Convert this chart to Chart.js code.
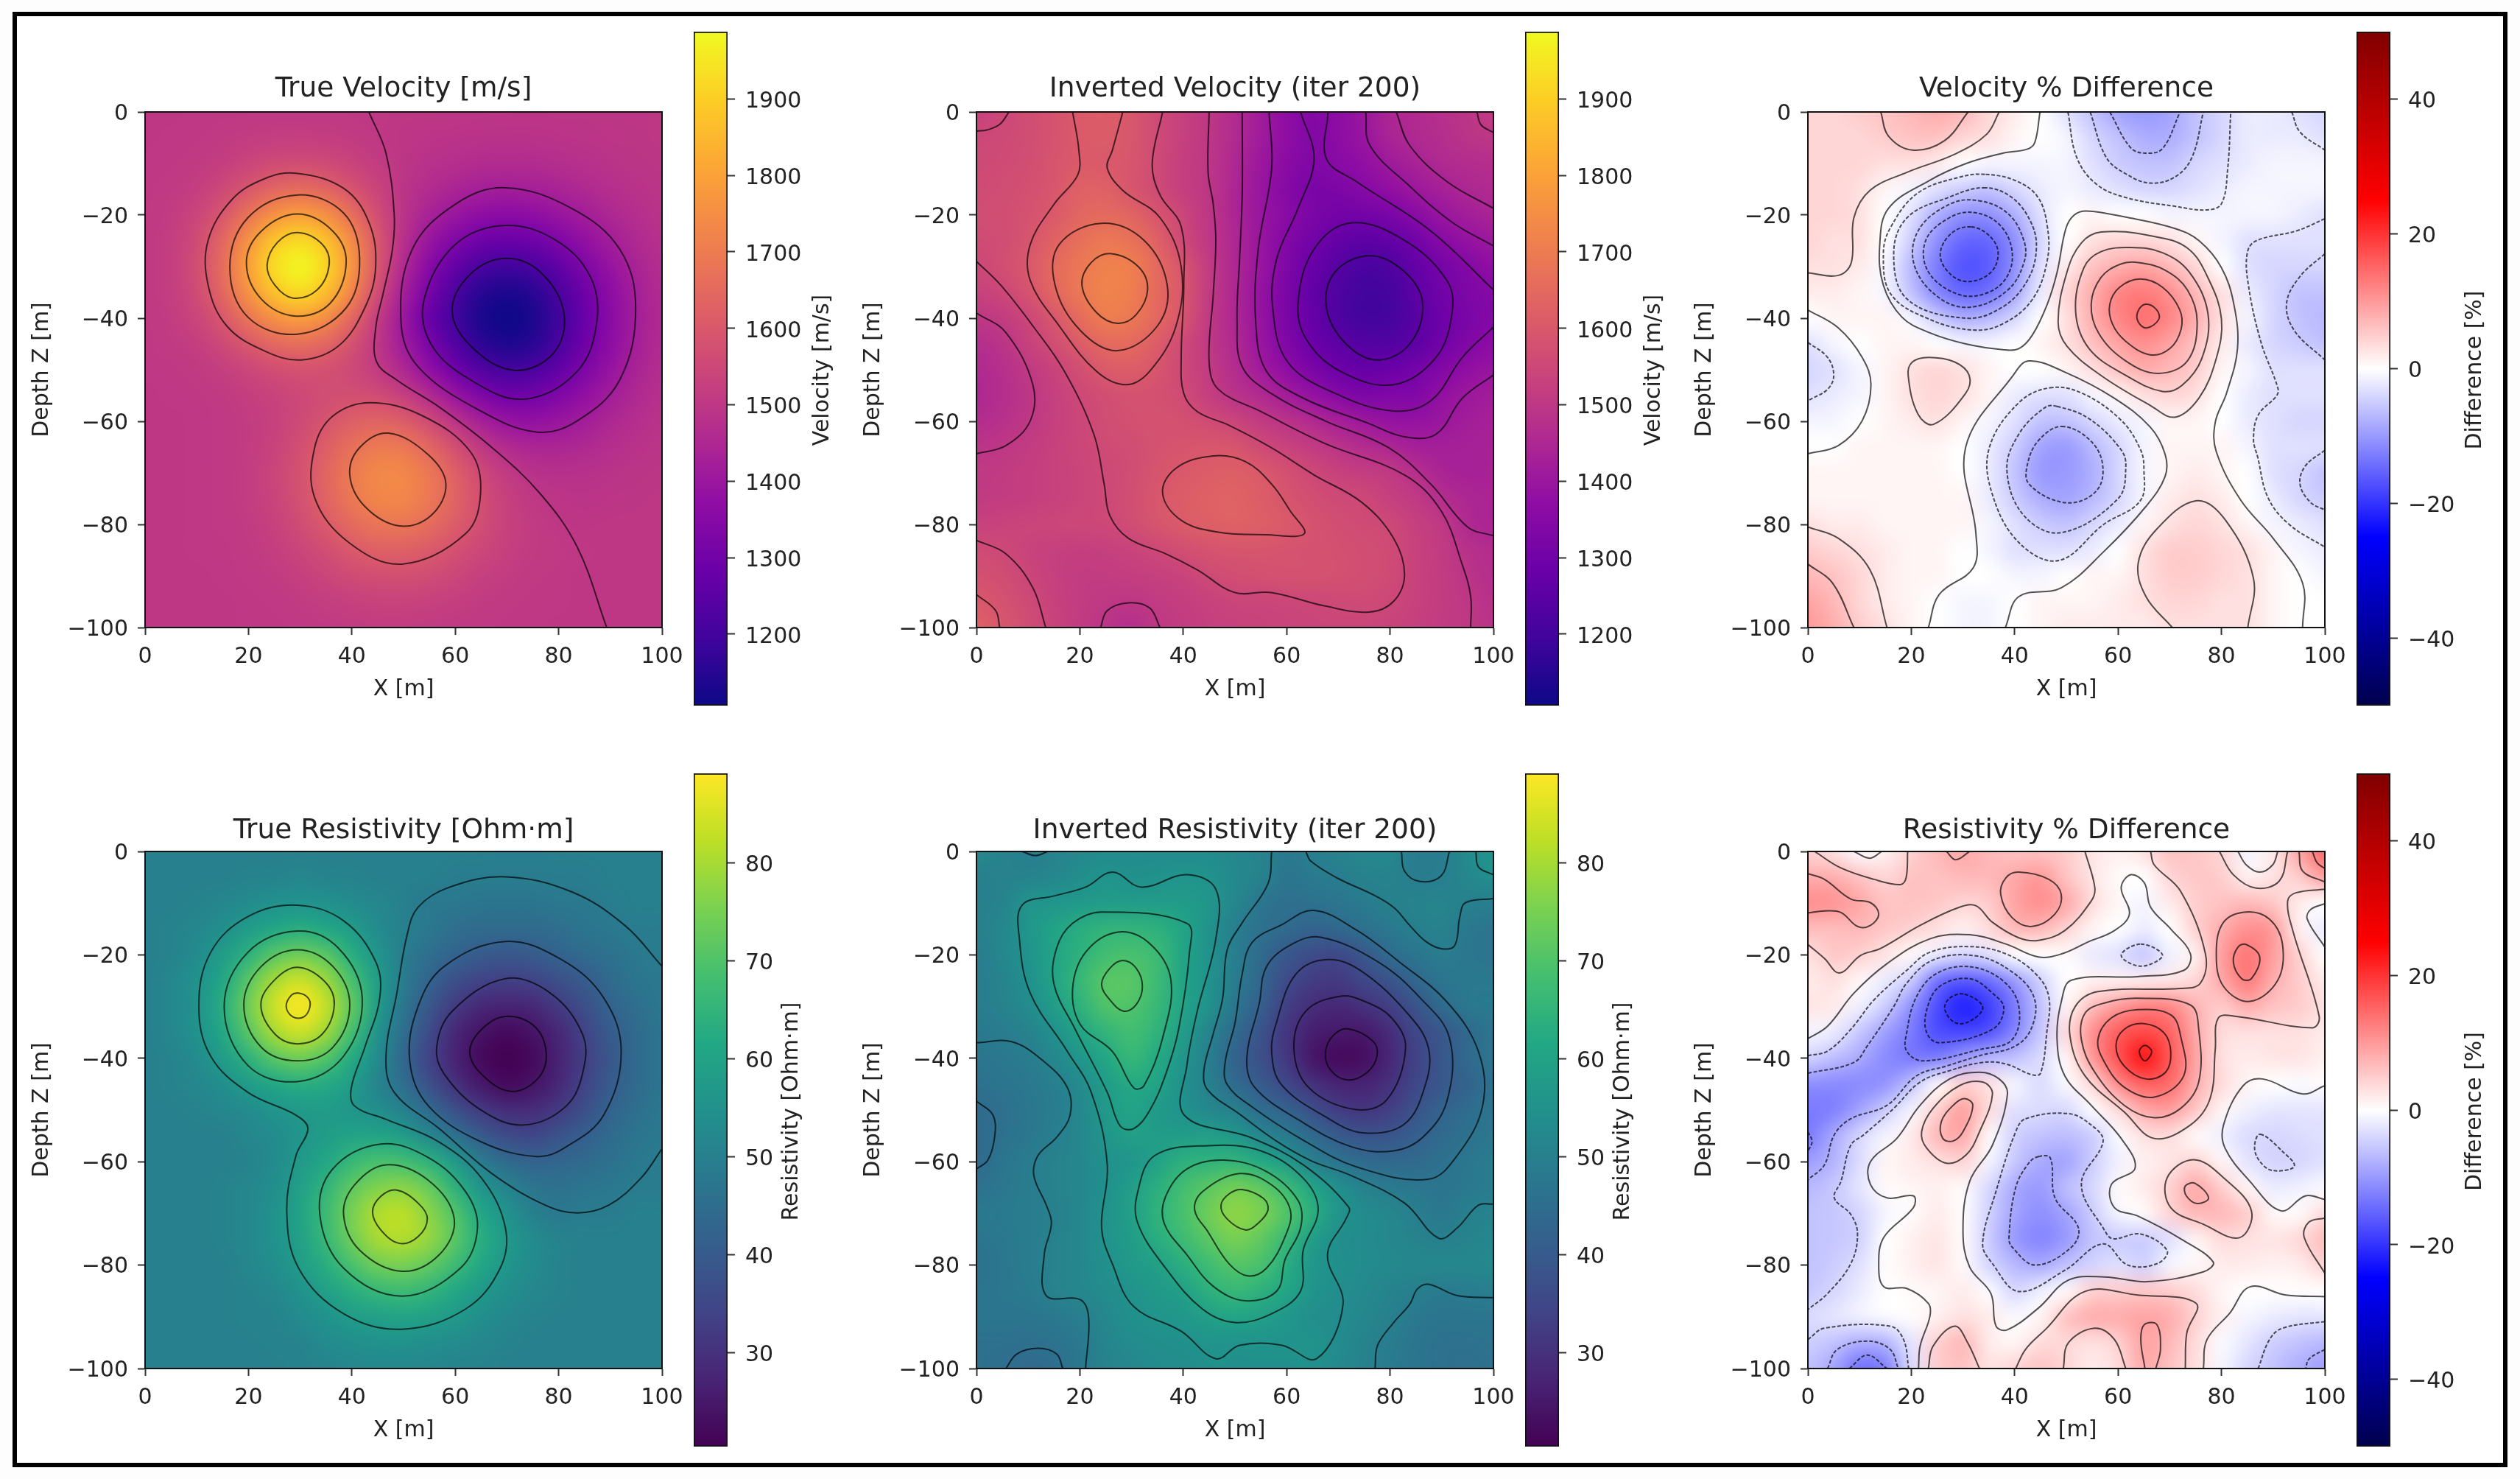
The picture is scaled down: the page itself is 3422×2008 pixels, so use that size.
<!DOCTYPE html>
<html>
<head>
<meta charset="utf-8">
<title>Inversion results</title>
<script src="https://cdn.jsdelivr.net/npm/chart.js@4"></script>
<style>
  html, body { margin: 0; background: #fdfdfd; }
  #frame { position: absolute; left: 17px; top: 16px; width: 3376px; height: 1964px; border: 6px solid #000; background: #fff; }
  canvas { position: absolute; filter: blur(0.7px); }
</style>
</head>
<body>
<div id="frame"></div>
<script>
// cell centres of every grid, 5 m apart
const xCells = [0, 5, 10, 15, 20, 25, 30, 35, 40, 45, 50, 55, 60, 65, 70, 75, 80, 85, 90, 95, 100];
const zCells = [0, -5, -10, -15, -20, -25, -30, -35, -40, -45, -50, -55, -60, -65, -70, -75, -80, -85, -90, -95, -100];

// tick labels
const xTicks = [0, 20, 40, 60, 80, 100];
const depthTicks = [0, -20, -40, -60, -80, -100];
const velocityTicks = [1200, 1300, 1400, 1500, 1600, 1700, 1800, 1900];
const resistivityTicks = [30, 40, 50, 60, 70, 80];
const diffTicks = [-40, -20, 0, 20, 40];

// colour ranges
const velocityRange = [1106.5, 1988];
const resistivityRange = [20.4, 89.1];
const diffRange = [-50, 50];

// one row per depth
const trueVelocity = [
  [1500,1500,1501,1502,1503,1504,1505,1504,1503,1502,1500,1499,1497,1496,1494,1493,1494,1495,1496,1497,1498],
  [1500,1501,1503,1507,1513,1519,1521,1518,1511,1503,1497,1491,1487,1484,1483,1484,1487,1490,1494,1496,1498],
  [1501,1503,1509,1521,1540,1558,1565,1556,1536,1513,1495,1481,1471,1463,1461,1463,1470,1478,1486,1492,1496],
  [1502,1507,1521,1552,1596,1640,1658,1636,1588,1536,1492,1462,1440,1425,1420,1425,1438,1455,1471,1484,1492],
  [1503,1513,1540,1596,1680,1760,1794,1755,1666,1567,1489,1434,1394,1368,1359,1368,1391,1421,1449,1471,1486],
  [1505,1519,1558,1640,1761,1879,1926,1869,1739,1595,1478,1395,1334,1293,1279,1293,1329,1376,1420,1455,1478],
  [1505,1521,1566,1659,1796,1930,1983,1917,1766,1597,1456,1349,1269,1214,1195,1214,1264,1328,1390,1438,1470],
  [1505,1519,1558,1640,1761,1873,1924,1863,1724,1565,1425,1311,1219,1154,1131,1154,1214,1292,1367,1425,1463],
  [1503,1513,1540,1596,1681,1755,1790,1745,1642,1518,1400,1281,1197,1131,1107,1131,1195,1279,1359,1420,1461],
  [1502,1507,1521,1552,1598,1644,1662,1637,1578,1500,1412,1319,1231,1163,1135,1154,1214,1292,1367,1425,1463],
  [1501,1503,1509,1522,1544,1567,1579,1575,1553,1511,1452,1377,1297,1234,1205,1218,1266,1328,1390,1438,1470],
  [1500,1501,1503,1509,1520,1535,1550,1566,1573,1562,1524,1463,1392,1331,1298,1301,1332,1376,1420,1455,1478],
  [1500,1500,1501,1505,1513,1528,1555,1587,1619,1632,1613,1560,1491,1428,1390,1381,1396,1421,1449,1471,1486],
  [1500,1500,1501,1505,1515,1535,1572,1618,1668,1697,1688,1641,1572,1506,1461,1443,1444,1455,1471,1484,1492],
  [1500,1500,1501,1506,1516,1540,1581,1637,1695,1733,1732,1688,1621,1554,1507,1483,1477,1480,1486,1492,1496],
  [1500,1500,1501,1505,1516,1538,1577,1632,1690,1726,1728,1690,1631,1571,1527,1503,1494,1490,1494,1496,1498],
  [1500,1500,1501,1504,1512,1530,1561,1605,1651,1683,1684,1657,1612,1566,1530,1510,1500,1497,1498,1499,1499],
  [1500,1500,1501,1503,1508,1520,1541,1570,1601,1622,1624,1606,1576,1546,1523,1510,1504,1501,1500,1500,1500],
  [1500,1500,1500,1501,1505,1512,1523,1540,1558,1570,1571,1561,1544,1526,1513,1506,1502,1500,1500,1500,1500],
  [1500,1500,1500,1500,1502,1505,1511,1519,1527,1533,1534,1529,1521,1512,1506,1503,1501,1500,1500,1500,1500],
  [1500,1500,1500,1500,1501,1502,1504,1508,1511,1513,1514,1512,1508,1505,1502,1501,1500,1500,1500,1500,1500]
];
const invertedVelocity = [
  [1530,1548,1565,1585,1605,1615,1595,1555,1525,1500,1460,1415,1365,1340,1365,1400,1445,1460,1475,1492,1510],
  [1548,1555,1565,1585,1605,1612,1595,1555,1525,1498,1460,1412,1372,1338,1365,1395,1440,1455,1470,1488,1498],
  [1555,1560,1570,1590,1605,1600,1592,1555,1520,1497,1450,1400,1360,1335,1355,1375,1410,1435,1455,1465,1470],
  [1560,1565,1575,1592,1625,1625,1590,1555,1520,1495,1445,1395,1345,1320,1325,1350,1375,1405,1430,1450,1460],
  [1565,1570,1580,1605,1640,1652,1635,1590,1545,1495,1445,1395,1355,1325,1305,1305,1320,1355,1395,1420,1440],
  [1560,1565,1590,1630,1665,1690,1675,1625,1550,1500,1450,1395,1340,1300,1270,1255,1265,1300,1350,1385,1405],
  [1548,1570,1598,1650,1690,1715,1710,1650,1590,1510,1450,1395,1330,1280,1240,1215,1225,1270,1310,1340,1375],
  [1530,1545,1585,1640,1690,1720,1705,1650,1595,1510,1450,1385,1320,1265,1225,1200,1205,1255,1300,1330,1348],
  [1498,1515,1545,1595,1655,1705,1690,1645,1590,1505,1450,1390,1320,1275,1225,1200,1205,1245,1290,1320,1345],
  [1470,1490,1530,1565,1610,1650,1650,1610,1552,1505,1455,1395,1335,1285,1255,1235,1235,1255,1300,1335,1365],
  [1455,1475,1505,1535,1570,1605,1615,1590,1550,1510,1465,1415,1370,1320,1290,1275,1285,1310,1340,1375,1395],
  [1450,1470,1495,1525,1550,1570,1580,1575,1560,1520,1485,1460,1420,1385,1350,1325,1335,1335,1380,1405,1420],
  [1465,1480,1500,1525,1545,1565,1575,1580,1575,1560,1540,1512,1490,1460,1430,1405,1385,1385,1400,1420,1430],
  [1490,1500,1515,1530,1545,1558,1565,1580,1590,1597,1590,1555,1535,1515,1490,1465,1450,1425,1425,1430,1435],
  [1505,1510,1520,1530,1540,1552,1565,1590,1603,1615,1620,1605,1575,1550,1530,1518,1508,1475,1440,1430,1435],
  [1510,1515,1520,1530,1540,1552,1570,1595,1615,1625,1628,1615,1590,1570,1555,1550,1525,1508,1470,1450,1440],
  [1530,1535,1540,1545,1548,1550,1565,1590,1607,1620,1625,1620,1605,1585,1570,1560,1552,1525,1505,1455,1440],
  [1560,1552,1535,1525,1520,1525,1535,1550,1570,1585,1590,1590,1585,1580,1575,1570,1560,1530,1510,1480,1465],
  [1575,1565,1545,1525,1515,1515,1520,1525,1535,1555,1570,1575,1580,1580,1575,1570,1558,1530,1515,1490,1470],
  [1600,1580,1555,1530,1515,1502,1495,1510,1520,1530,1540,1540,1545,1548,1555,1558,1548,1530,1515,1500,1480],
  [1625,1595,1565,1535,1510,1490,1470,1498,1515,1525,1530,1535,1538,1540,1540,1540,1535,1525,1512,1502,1485]
];
const velocityDiff = [
  [4,4,5,6,7,8,7,4,2,0,-3,-6,-9,-10,-9,-6,-4,-2,-2,-3,-4],
  [4,4,4,5,6,6,4,3,1,0,-1,-4,-6,-8,-8,-6,-4,-2,-2,-2,-3],
  [4,4,4,3,3,2,0,-1,-1,-1,-1,-3,-5,-6,-6,-4,-3,-2,-1,-1,-1],
  [4,4,3,1,-1,-3,-5,-6,-4,-2,-1,-2,-3,-4,-4,-3,-2,-1,-1,-1,-1],
  [4,4,3,0,-3,-8,-11,-11,-8,-3,0,1,0,0,-1,-1,-1,-1,-1,-2,-3],
  [4,3,3,0,-5,-11,-15,-15,-11,-4,0,3,4,4,3,1,-1,-3,-3,-3,-3],
  [3,3,2,-1,-7,-13,-17,-16,-11,-3,2,6,8,9,7,4,0,-3,-4,-4,-4],
  [2,2,1,-1,-6,-12,-15,-14,-9,-2,4,8,12,13,11,7,3,-2,-4,-6,-6],
  [0,1,1,1,-1,-5,-8,-7,-4,0,3,8,12,14,12,8,3,-1,-4,-6,-7],
  [-3,-1,0,1,1,0,-1,-1,0,1,3,6,9,11,9,6,2,-2,-4,-5,-6],
  [-4,-3,-1,1,3,4,3,1,0,0,1,3,6,8,7,5,1,-1,-3,-3,-3],
  [-3,-2,-1,1,3,4,3,1,-2,-3,-3,-1,1,3,4,3,0,-2,-3,-3,-3],
  [-1,-1,0,1,2,3,1,-1,-3,-6,-6,-4,-2,-1,1,1,0,-2,-3,-4,-4],
  [0,0,1,1,1,1,0,-2,-5,-9,-10,-7,-4,-1,1,1,1,-1,-3,-3,-3],
  [1,1,1,1,1,1,0,-2,-6,-10,-10,-8,-4,-1,1,2,1,0,-3,-4,-6],
  [1,1,1,1,1,1,1,-2,-5,-8,-9,-7,-4,-1,2,3,2,0,-2,-4,-5],
  [3,2,2,1,1,1,1,-1,-3,-5,-6,-4,-2,1,3,4,3,1,-1,-2,-3],
  [5,4,3,2,1,1,0,-1,-3,-3,-3,-2,0,3,5,5,4,3,1,-1,-2],
  [7,6,4,2,1,1,0,0,-1,-1,0,1,1,3,5,5,4,3,1,0,-1],
  [9,7,4,2,1,0,-1,-1,0,1,1,1,2,3,4,4,3,3,1,0,0],
  [10,8,5,3,1,0,-1,-1,0,1,2,2,2,2,3,3,3,3,1,0,0]
];
const trueResistivity = [
  [50,50,50,50,50,50,50,50,50,50,50,50,50,50,49.5,49.5,50,50,50,50,50],
  [50,50,50,50,51,51,52,51,51,50,50,50,49,49,49,49,49,49,50,50,50],
  [50,50,51,52,53,55,55,55,53,52,50,48,48,47,47,47,48,48,49,50,50],
  [50,51,52,54,58,61,63,61,58,53,50,48,45,44,44,44,45,47,48,49,49],
  [50,51,53,58,64,71,74,71,63,56,49,45,42,40,39,40,42,44,46,48,49],
  [50,52,55,61,71,80,84,79,69,58,49,42,37,34,33,34,37,40,44,47,48],
  [50,52,55,63,74,84,89,83,72,58,47,39,32,28,27,28,32,37,42,45,48],
  [50,52,55,61,71,80,84,79,68,55,45,36,28,24,22,24,28,34,40,44,47],
  [50,51,53,58,64,71,74,70,62,53,43,34,27,22,20.5,22,27,33,39,44,47],
  [50,51,52,54,58,61,63,62,58,51,45,37,30,25,22,24,28,34,40,44,47],
  [50,50,51,52,53,56,57,58,56,54,50,44,37,32,29,29,32,37,42,45,48],
  [50,50,50,50,52,53,56,58,60,60,58,52,46,40,36,35,38,41,44,47,48],
  [50,50,50,50,51,53,57,61,66,69,68,64,57,49,44,42,43,44,46,48,49],
  [50,50,50,51,52,54,59,65,72,76,77,73,64,56,51,47,46,47,48,49,49],
  [50,50,50,51,52,55,60,67,75,81,82,77,70,61,55,50,48,49,49,50,50],
  [50,50,50,51,52,55,59,66,74,80,81,78,71,63,57,53,51,50,50,50,50],
  [50,50,50,50,52,54,58,63,69,74,75,72,67,61,56,53,51,50,50,50,50],
  [50,50,50,50,51,52,55,59,63,66,67,65,61,57,54,52,51,50,50,50,50],
  [50,50,50,50,51,51,53,55,58,59,60,59,57,54,52,51,50,50,50,50,50],
  [50,50,50,50,50,51,51,53,54,55,55,54,53,52,51,50,50,50,50,50,50],
  [50,50,50,50,50,50,51,51,52,52,52,52,51,51,50,50,50,50,50,50,50]
];
const invertedResistivity = [
  [52,51,49.5,50.5,52,53,53,53,53,53,52,50.5,48,49.5,51,52,52,49,49,53,56],
  [50,50.5,51,52,54,55.5,54.5,55,55.5,55,52.5,50.5,47,48.5,49,50.5,51,49,49.5,52,54],
  [50,51,55.5,56,57,58,58,58,58,56,52,47,45.5,46,47,48.5,50,51,51.5,50,49.5],
  [50,52,56,60,63,65,65,64,60.5,55,49.5,46,44,42,43.5,46,48,49.8,50.5,48,47],
  [49,52,55,60,64,68,69,67,60.5,55,49.5,44,39,36,35,39,44.5,47,49,47.5,47],
  [49,51,54.5,60,66,71,71,67,60,55,49,43,36,32.5,32,35,38,43,47,48,48],
  [49,50.5,53,58,64,70,70,66,60,55,47,41,33,29,28,30,33,38,44,48,48.5],
  [48,49,50.5,54.5,60,65,68,64.5,58,51,44,38,31,26,25,25,29,35,39,43.5,47],
  [47,48,49,52,56,61,66,62,56,49.5,42,37,31.5,24.5,22,23,28,34,39,44,47],
  [46,47,48,49.5,53,58,62,60,54.5,50,44,40,35,30,27,27,30,35,39,42,46],
  [44,45.5,47.5,49,52,57,60,57,55,52,50,44.5,42,37,32.5,31,33,38,42,44.5,47],
  [44,46,47.5,49.5,52,56,59,58,58,58.5,56.5,52,48.5,44,40,38,38.5,41,44,46,48],
  [44,47,49,50.5,52,54.5,56,59.5,64,64.5,65,62,57,50,46.5,44,43.5,44,46,47.5,49],
  [46,47.5,49,50.5,52,54.5,58.5,63.5,68,71.5,74.5,72,67,60.5,54.5,50.5,48.5,47.5,47,48,49],
  [48,48.5,49,50,52,55,59,64.5,69,74,77.5,75.5,70.5,63.5,55.5,53,52,49.5,47.5,50,51],
  [47,48,49,50.5,52,55,58,63,67,71.5,75,72,66,58,54,53,52,51,50,51,52],
  [46,47.5,49,50.5,52,54.5,57,59,63.5,67.5,70.5,69,63,56,54.5,53,52.5,52,52,52,52.5],
  [47,47.5,48.5,50.5,52,53.5,55,57,59,64,66,64,60.5,55.5,54,52.5,51,49.8,48.5,49,49.5],
  [47,47,47,48,49.5,52,54.5,55.5,56.5,59,60.5,59,56.5,54,53,52,50,48,47,47,47],
  [46,46,45.5,46.5,48,51.5,53,54,54.5,55.5,55,55.2,55,55.5,53,51,49,47,46,46,46.5],
  [46,45.2,44,44.5,48,50.5,52,53,53.5,54.5,54.5,54.5,54.5,54.5,52.5,50.5,48.5,47,46,45.5,46]
];
const resistivityDiff = [
  [4.5,3,-.5,1.5,4.5,7,8.5,7,6,6,5,2.5,1.5,3,6,5.5,4,-1,2,9,15],
  [8,8,6,4,6,6,7,7,8.5,10,6,2.5,.5,0,4,5.5,5,1.5,3,5,9.5],
  [11,10.5,8.5,6,6,5.5,4.2,5,9,11,8.5,3.5,.8,-1,2,4.8,6,7,5.5,2,0],
  [6.5,6.5,7,5.5,4.5,3,1.5,3.5,7,7,4.2,1,0,-2,0,4.5,8,11,10,1.5,-2],
  [3,5.5,4.5,2.5,.5,-2,-4,-3,0,0,.5,-2,-3,-5.5,-1.5,1.5,9.5,13.5,9.5,4.5,0],
  [2,3,.8,-2,-5,-14,-16.5,-14.5,-10,-4.5,0,1.5,1.5,2,2.5,4,8.5,13,8,5,2],
  [2.5,2,-1.5,-5,-11,-17.5,-22,-19,-13,-6,1,6.5,10,12.5,12,7.5,5,8,6,5,3],
  [-1,-2,-5.5,-9.5,-13,-17.5,-18,-17,-12,-5.5,3.5,11,16,18,15.5,8.5,3.5,3,3,3,2],
  [-4.5,-6.5,-8.5,-11.5,-13,-12.6,-9.5,-7,-6,-3.5,.8,10,17,23,16.5,9,3,2,2.5,2.5,1.5],
  [-11,-11.5,-11.5,-10.5,-6,.3,4.5,3,-1,-3.5,-.5,3.8,11.5,15.5,14.5,8,3.5,1,0,-.5,.3],
  [-13,-12.5,-9,-5,-1,4.5,9.5,3.5,-3,-3.5,-3.8,-.3,3.5,8.5,9.5,5.5,1,-1.5,-2.5,-2.5,-2.5],
  [-13,-8.4,-4,-1,2,7,8.5,.5,-4.5,-6,-6.5,-5,-.5,3,3.5,.5,-1.5,-3.5,-4,-3.5,-3],
  [-9.5,-7.5,-3.3,1,2,3,4.2,-1,-5.5,-8.4,-9,-5,-1.5,1.5,2.5,4.2,1,-2.5,-4.3,-4,-3],
  [-7,-5.5,-2.5,.5,1,1.5,.5,-3.8,-8.4,-10,-6.5,-4,.5,2,4.5,8.5,5,1,-2,-1.5,-.5],
  [-6,-5.5,-4.2,-1,.3,2,.3,-4.5,-9,-11,-9,-5,-1,.5,4.2,7,7,5,.8,.5,3.5],
  [-6,-5.5,-4.5,0,1.5,2.5,.5,-5,-10,-12,-10,-6,-5,-5,-3,1,3.5,3,2.5,3.8,6.5],
  [-6,-5,-3,.3,1.5,2.5,.5,-4,-7,-8.4,-6,-4.2,-3,-4.5,-1,.8,2,2,1.5,2,4.5],
  [-5.5,-4,-2,0,.5,1,2,-.3,-4,-1.5,.5,4.5,5,5.5,5,3.5,1,0,.2,.2,.2],
  [-3.5,-2.5,-1.5,-.5,.3,1.5,3,2,-.5,1,6,8,8,9,8,4.5,1.5,-1,-2,-2.5,-2.5],
  [-4.7,-6,-8,-7.5,-2.5,4.5,7,2,1,3.5,3.8,3,4.5,9,7,3.5,-.5,-2.5,-4.8,-6,-7],
  [-6,-9,-14,-12.6,-3.5,5,6,3,4.2,6,4,2,3.5,8.5,6,3,-1,-4,-6,-8,-9.5]
];

// contour lines as x, z, x, z ...  A line that does not start on the edge is a closed loop
const trueVelocityLines = [
  [43.3,0,46.6,-8,48.2,-20,47.8,-27,46.1,-35,44.6,-42,44.8,-48.5,48.7,-52,57,-57.3,67,-65,76.4,-74,83.6,-84.4,89.3,-100],
  [29.2,-11.9,38.4,-14.8,43.3,-21.4,44.6,-30.1,42.5,-38,37.4,-45.4,30.2,-48.1,23,-46.3,15.8,-41.5,12.2,-33.6,12.2,-24.9,16.8,-17,23,-13],
  [29.5,-16.1,38.4,-19.6,41.5,-28.4,38.9,-38,29.5,-43.1,19.9,-39.8,16.4,-30.1,19.9,-20.5],
  [29.5,-19.8,36.3,-23.1,38.9,-29.2,35.8,-37.1,29.2,-39.6,22.5,-36.3,19.6,-29.2,22.5,-23.1],
  [29.5,-23.4,34.3,-25.7,35.6,-29.7,33.3,-34.5,28.6,-36.1,25.1,-33.6,23.6,-29.7,25.6,-25.3],
  [69.7,-14.7,82.5,-18.7,91.8,-26.6,94.9,-38,91.8,-52,83.6,-59.9,75.9,-62.1,65.1,-58.1,52.8,-49.4,49.5,-40.6,51.7,-26.6,60,-17.9],
  [69.7,-22,79.5,-24.9,86.1,-31.9,87.4,-40.6,83.6,-50.3,73.3,-55.7,63,-52,55.3,-45,54,-36.3,60,-25.7],
  [69.7,-28.4,76.4,-31,81,-38.9,79,-46.8,71.3,-50.1,63,-45.4,59.4,-38.4,63,-31.4],
  [43.5,-56.4,53.8,-59,63,-66,64.9,-73.9,62,-81.8,49.7,-87.7,39.4,-83.5,32.8,-74.8,32.8,-65.1,36.3,-59],
  [47.1,-62.3,54.8,-66.5,58.2,-72.2,55.3,-78.3,49.2,-80.3,42.5,-76.5,39.6,-70.4,41.5,-65.1]
];
const invertedVelocityLines = [
  [6.3,0,4.5,-2.4,2,-3.5,0,-3.7],
  [96.8,0,97.6,-2.5,100,-4],
  [0,-29,4.7,-33.6,10.9,-41.5,17,-50.3,22.7,-62.5,24.7,-72.2,25.8,-78.3,29.4,-82.7,36.6,-85.7,42.7,-88.8,49.9,-93.2,57,-93.2,67.3,-95.8,76,-97,80.7,-94.9,82.8,-89.7,80.7,-82.7,74.5,-75.7,65.3,-70.4,57,-65.1,48.9,-60.8,42.7,-58.1,40.1,-54.6,39.6,-47.6,40.1,-33.6,39.6,-22.2,35.5,-16.1,34,-10,36,0],
  [18.6,0,19.8,-7.4,19.6,-12.2,15,-17.9,10.4,-25.7,10.4,-32.7,16,-41.5,23.2,-50.3,28.9,-52.9,33.5,-50.3,38.6,-41.5,39.6,-30.1,35.5,-20.5,28.3,-15.2,25.3,-10.9,26.3,-7.4,28.3,0],
  [24.2,-21.6,32.4,-24.9,36.9,-33.6,35,-41.5,27.3,-46.3,20.1,-42.4,15.2,-33.6,16,-25.7],
  [26.1,-27.5,31.4,-30.1,33.1,-34.5,30.9,-39.3,27.3,-41,23.2,-38.9,20.4,-33.6,22.2,-29.2],
  [0,-39,5.7,-42.8,10.9,-52.9,10.4,-59.9,5.7,-64.7,0,-66.3],
  [45.8,-66.7,52,-67.8,57.1,-72.2,60.7,-77.4,63.4,-81.8,56,-82,46.8,-81.5,39.6,-79.2,36,-73.9,38.6,-69.1],
  [0,-83.1,5.7,-85.7,10.9,-92.3,13.4,-100],
  [0,-93.6,3.7,-96.7,4.5,-100],
  [24,-100,25.3,-96.7,29.4,-95.2,33.5,-96.2,35.5,-100],
  [45,0,44.8,-11.7,45.8,-17.9,46.3,-24.9,45.8,-35.4,45,-48.5,46.8,-53.8,55,-58.1,67.4,-64.3,82.8,-70.4,89.9,-77.4,94,-87.9,95.6,-94,95.6,-100],
  [51.4,0,51.4,-16.1,50.9,-28.4,50.4,-40.6,51.4,-49.4,57,-54.6,67.4,-59.9,79.7,-65.1,87.9,-72.2,95,-80.5,100,-82.2],
  [56.6,0,57.1,-10.9,54.5,-26.6,54,-40.6,56.1,-50.3,63.2,-55.5,75.6,-60.3,82.8,-63,88.9,-62.5,94,-55.5,100,-51],
  [62.7,0,65.3,-9.1,62.2,-18.7,58.1,-28.4,57.3,-38,60.2,-48.5,69.4,-54.6,80.7,-58,87.9,-56,94,-47.6,100,-41.7],
  [68,0,67.7,-9.1,73.5,-13.5,87.9,-23.1,100,-34.5],
  [72.5,-21.5,82.8,-24.9,91,-32.7,92,-38.9,88.9,-47.6,80.7,-52.9,70.4,-50.3,63.8,-44.1,62.2,-37.1,65.3,-26.6],
  [76.1,-27.9,82.8,-31,86.3,-37.1,83.8,-45,77.6,-48.1,71.5,-45,67.7,-38,69.4,-31],
  [75.3,0,76.1,-6.5,83.8,-14.4,92,-21.4,100,-26],
  [81.2,0,83.8,-6.5,91,-13.5,100,-18.7]
];
const velocityDiffSolid = [
  [14.1,0,15.6,-4.7,20.2,-7.4,26.4,-5.6,31,0],
  [37,0,34.6,-4.3,28.4,-8.2,19.2,-11.7,12,-15.2,8.9,-20.5,8.4,-29.2,5.9,-31.7,0,-31.2],
  [44.9,0,43.9,-5.9,42.5,-7.2,37.7,-8,30.6,-10,23.5,-13.3,15.6,-18.7,13.9,-25.7,14.6,-33.6,18.2,-39.8,23.5,-42.8,30.6,-45,37.7,-46.1,40.8,-45.9,43.4,-43.3,46.3,-37.3,48.2,-31.1,49.9,-22.6,51.5,-20,53.9,-19.2,61.5,-20.4,71,-22.6,75.7,-25,80,-30.2,82.4,-37.3,83.1,-45.9,81,-54.5,78.8,-60.2,79,-65.9,83.8,-75.4,90,-82.7,95.7,-91.4,95.7,-100],
  [56.7,-23.3,66.2,-24,73.4,-26.4,77.6,-32.6,80,-40.2,79,-47.8,75.7,-55.4,71,-59.2,66.2,-56.9,56.7,-51.1,50.1,-45.4,48.4,-40.7,50.1,-31.1,52.9,-25.4],
  [62.4,-26.3,68.6,-27.3,73.8,-31.1,77.4,-39.2,76.2,-47.8,72.4,-53,68.6,-54.2,61.5,-51.1,54.4,-45.9,51.8,-38.8,53.4,-30.2,56.7,-27.1],
  [63.9,-29.2,69.1,-30.7,73.4,-34.5,75.3,-40.7,73.4,-48.3,67.7,-50.7,61.5,-48.3,56.3,-43,54.8,-37.3,56.7,-32.1,60.5,-29.5],
  [64.3,-32.4,68.6,-34,71.9,-38.3,72.2,-42.1,70,-45.9,66.2,-47.1,61.5,-44.5,58.9,-41.1,58.4,-37.3,60.3,-34],
  [65.3,-37.3,67.4,-38.3,67.9,-40.2,65.5,-41.9,63.9,-40.7,63.8,-38.8],
  [23.3,-47.6,28.4,-48.5,31.2,-51.1,30.5,-54.6,24.3,-60.6,21.3,-58.6,19.4,-51.1,20.2,-48.5],
  [38.2,-100,40.8,-94,49,-92.3,57.2,-85.3,65.4,-76.5,69.1,-70.7,69.1,-66.4,66.2,-61.1,59.1,-55.4,49.6,-50.4,42.7,-48.3,39.7,-51.1,30.5,-65.1,32.5,-81.8,32,-88.4,25.4,-93.6,23.3,-100],
  [0,-38.4,5.9,-41.9,10.5,-47.6,12.2,-52.9,10.5,-59.9,5.9,-64.7,0,-66.3],
  [70.5,-100,65.4,-94,63.9,-87.5,67.5,-80.9,75.2,-75.4,80.8,-79.2,86.2,-90.5,85.1,-100],
  [0,-80.5,5.9,-82.7,12,-88.8,15.3,-100],
  [0,-87.7,4.8,-91.4,8.9,-100]
];
const velocityDiffDashed = [
  [50.3,0,52,-8.8,55.8,-14,61.5,-16.6,71,-18.3,77.2,-19,80,-17.8,81.2,-11.1,81.8,0],
  [54.6,0,57.7,-8.8,61.5,-12,66.2,-13.8,71,-12.6,74.3,-8.8,76.5,0],
  [58.4,0,62.4,-6.9,65.3,-8,68.6,-7.1,72,0],
  [93.6,0,95.2,-3.9,100,-7.4],
  [34.4,-12.1,40.1,-13.3,44.4,-16.4,46.3,-22.1,46.3,-28.8,43.4,-36.4,37.7,-41.1,32,-42.3,23.5,-40.2,16.1,-35.4,14.6,-27.5,16.1,-22.2,21.3,-15.7,29.5,-12.6],
  [34,-14.7,39.2,-16.4,43,-21.1,44.2,-26.4,42.5,-32.6,37.7,-37.8,30.6,-40,19.2,-36.3,16.6,-27.5,19.2,-20.5,27.4,-16.5],
  [33,-17.2,38.7,-19.7,41.8,-25,41.8,-29.2,38.7,-34.5,32,-37.8,25.9,-36.4,20.7,-30.1,21.3,-23.1,27.4,-17.9],
  [32,-19.5,36.8,-21.6,39.4,-26.4,38.7,-31.6,34.9,-35,29.2,-35.4,23.3,-31,22.8,-24.9,27.4,-20.5],
  [31.6,-22.3,35.1,-24,36.8,-27.3,35.4,-31.1,31.1,-32.9,27.5,-31.4,25.6,-27.6,27.8,-23.5],
  [46.8,-53.5,52.9,-54.5,60.5,-59.7,64.3,-65.4,65,-69.2,64.3,-75.4,57.2,-80,48.5,-87,40.8,-83.5,35.6,-73.9,35.1,-65.1,40.8,-56.4],
  [48.2,-57.1,54.4,-59.5,60.5,-65.4,61.5,-68.8,60,-75,49,-81.6,41.8,-78.3,38.5,-69.5,40.8,-62.5,45.9,-57.3],
  [49.1,-61,54.4,-63.5,57,-68.3,55.8,-73.5,50,-75.8,42.8,-72.2,42.6,-67.8,44.9,-63.4],
  [100,-20.7,94.7,-23,86.7,-25,85,-27.3,85.2,-33.5,87.6,-44.5,90.9,-53.5,90.7,-55,87.1,-58.8,86.2,-63.5,87,-66.9,89,-74.8,93.1,-80,100,-84.4],
  [100,-27.5,95.2,-31.9,92.6,-37.1,94.1,-42.4,100,-48.1],
  [100,-65.6,96.2,-68.7,95.2,-72.2,97.2,-75.7,100,-77.2],
  [0,-44.7,3.8,-47.6,5,-51.1,3.8,-53.8,0,-56]
];
const trueResistivityLines = [
  [29.5,-10.4,38.4,-13.4,44.6,-21.3,45.4,-28.3,42.5,-37.9,39.9,-45.7,40.5,-49.2,46.6,-51.8,56.9,-56.2,65.1,-63.2,69.7,-72.8,68.7,-80.6,62,-88.5,49.7,-92.4,38.4,-89.4,29.7,-80.6,27.4,-69.3,29.2,-58.8,31.5,-53.6,29.2,-51,19.9,-46.6,12.7,-39.6,10.4,-30,12.7,-19.5,19.9,-12.6],
  [29.5,-15.4,37.4,-18.7,42,-28.3,38.4,-39.6,29.5,-44.5,19.9,-41.4,15.3,-30,19.9,-19.5],
  [29.5,-19,36.3,-22.2,39.6,-29.6,36.3,-37.9,29.5,-40.5,22.5,-37.9,19.1,-29.6,22.5,-22.2],
  [29.5,-22.4,34.8,-25.2,36.6,-29.6,34.3,-35.3,29.5,-37.2,25.1,-35.3,22.4,-29.6,25.1,-24.8],
  [29.7,-27.4,31.5,-28.3,31.9,-30,30.7,-32,28.6,-32,27.3,-30,28.3,-27.8],
  [45.6,-56.6,54.8,-59.2,62,-65.8,64.3,-72.8,61,-80.6,49.7,-86,38.4,-80.6,33.8,-70.2,36.3,-61.4],
  [46.6,-60.6,54.8,-63.6,59.8,-71,56.9,-78,49.7,-81.2,41.5,-77.1,38.4,-70.2,40.5,-64.5],
  [48.7,-65.5,52.8,-68,54.6,-71,52.8,-74.5,49.2,-75.8,45.6,-73.2,44,-69.7,45.6,-66.7],
  [100,-22.2,92.8,-14.3,82.5,-7.8,69.7,-4.9,58.9,-6.9,52.8,-10.8,50.7,-16.1,48.7,-27.4,46.6,-39.6,48.2,-46.6,56.9,-53.6,67.1,-62.3,77.4,-68.4,83.6,-69.9,89.7,-68.4,95.9,-63.2,100,-57.5],
  [69.7,-17.4,80.5,-20.9,88.7,-28.3,92.1,-38.7,88.7,-51,81.5,-57.1,75.9,-59,65.1,-56.2,54.8,-49.2,51.2,-40.5,52.8,-30,57.9,-22.2],
  [69.7,-24.6,78.4,-27.4,84.6,-35.3,84.8,-42.2,81.5,-49.2,73.3,-52.9,65.1,-50.1,57.9,-43.1,56.4,-37.9,59.4,-30.9],
  [69.7,-31.9,75.4,-33.9,77.6,-39.2,75.9,-44,70.7,-46.4,65.1,-43.1,62.8,-38.7,65.1,-34.4]
];
const invertedResistivityLines = [
  [8.8,0,11.4,-.8,13.8,0],
  [26.3,-4,31.9,-6.9,40.7,-4.5,46.3,-7.3,46.3,-16.9,42.7,-30.9,40.7,-41.4,40.2,-51,53,-55.3,63.2,-60.6,72,-68.8,71.5,-71,67.9,-78,70.9,-87.6,65.8,-98.1,59.1,-95.5,50.9,-95.5,46.3,-98.1,39.6,-92.8,30.4,-88,26.3,-79.8,24.2,-72.8,25.3,-60.6,22.2,-46.6,17.6,-38.7,10.4,-27.4,8.3,-16.9,8.8,-10.4,15,-8.6,21.1,-6.9],
  [24.2,-11.7,40.7,-13.9,41.2,-19.5,39.1,-34.4,36.6,-43.1,33.5,-50.1,30.4,-53.6,27.8,-53.1,25.3,-46.6,19.1,-34.4,15,-25.7,15.5,-18.7,18.6,-13.9],
  [27.3,-15.6,33.5,-17.8,37.6,-24.8,36,-36.1,32.4,-45.3,30.4,-45.7,26.3,-38.7,20.1,-33.5,18.6,-26.5,21.1,-19.5],
  [28.3,-21.1,30.9,-22.6,32.1,-26.1,30.9,-29.6,28.5,-30.9,25.8,-28.7,24.2,-25.7,25.8,-22.6],
  [44.8,-56.9,55,-57.9,63.2,-63.2,66.1,-69.3,63.2,-77.1,62.7,-85,57.1,-89.4,49.9,-91.1,43.7,-88.5,36.6,-80.6,31.2,-71.9,31.2,-65.8,34.5,-58.8],
  [47.8,-59.7,56.1,-61.9,62.2,-67.5,62.7,-72.8,59.7,-78.9,58.1,-85,52,-86.9,45.8,-84.1,40.7,-78,36.3,-71.9,36.6,-66.7,40.7,-61.4],
  [50.9,-62.3,57.1,-64.5,60.7,-69.3,59.7,-74.5,56.1,-80.6,52.5,-82.1,48.9,-79.8,44.8,-73.6,42.2,-69.3,43.7,-65.8],
  [51.4,-65.4,55.5,-67.1,56.4,-69.3,54.5,-71.9,52,-73.2,48.4,-71,47.3,-68.4,48.9,-66.2],
  [57.1,0,56.4,-6.2,51.4,-13.8,48.5,-19,47.6,-28.5,45.7,-35.6,44,-42.3,44.7,-46.1,50.9,-50.8,58,-56,64.7,-59.8,72.5,-62.7,82.8,-68,89.4,-74.8,93,-72.8,97.1,-68.4,100,-68.2],
  [65.2,-11.4,59,-14.2,53.3,-17.6,51.4,-23.7,50,-33.2,48.1,-40.8,48.5,-45.1,53.3,-49.4,62.8,-55.6,73.5,-61,87.4,-63.4,93,-58.8,97.9,-49.2,97.1,-38.7,91,-29.1,81.7,-21.3,73.5,-15.2],
  [66.6,-16.6,60.9,-18,56.1,-22.3,54.7,-29.4,52.3,-39.9,53.8,-45.6,62.8,-52.2,72.5,-57.1,80.7,-57.9,86.3,-55.3,91,-48.3,91.5,-36.1,85.8,-28.3,77.6,-21.3],
  [68,-20.9,61.8,-23.7,58,-33.2,57.1,-38.9,59,-45.1,67.5,-51.3,74.7,-54.4,82.8,-52.7,86.9,-44.9,87.4,-37.9,83.8,-31.8,74.7,-23.3],
  [70.4,-28,63.7,-30.9,61.4,-38,64.2,-45.6,73.2,-49.9,79.4,-48,83,-38,80.4,-32.3,75.1,-29],
  [71.8,-34.3,76.6,-36.6,77.5,-39.4,75.6,-42.7,71.8,-44.2,68.5,-42.3,67.5,-38.9,69,-35.6],
  [63.7,0,64.7,-1.9,69.9,-5.2,77,-8.5,80.8,-10.9,83.8,-14.3,86.9,-17.4,89.9,-18.8,92.5,-18.2,93.5,-12.6,94.6,-9.9,100,-9.1],
  [82.2,0,82.8,-3.8,85.8,-5.8,89.9,-4.7,91.5,0],
  [96.6,0,97.1,-3,100,-4.5],
  [0,-37,6.8,-36.8,12.9,-40.5,17.6,-45.7,18.1,-51,15.5,-55.3,11.9,-58.8,11.1,-62.7,13.5,-68.4,14.5,-71.9,13.1,-78,13.5,-85.9,20.1,-86.7,21.7,-90.2,21.1,-100],
  [0,-48.3,3.2,-51,3.5,-55.3,2.2,-59.7,0,-61.4],
  [5.7,-100,7.8,-97.2,11.9,-96.1,15.5,-97.2,16.7,-100],
  [77.1,-100,77.6,-95.5,80.7,-91.1,83.8,-87.6,85.3,-84.6,87.4,-83.7,93,-85.9,100,-86.3]
];
const resistivityDiffSolid = [
  [1.3,0,6.4,-3.2,12.8,-5.4,17.9,-6.4,19,-5.1,19.3,0],
  [8.9,0,12,-1.3,14.3,0],
  [26.8,0,28.6,-1.6,31.3,0],
  [0,-4.3,3.2,-5.4,8.3,-9.2,12.1,-9.9,13.7,-12.1,12.1,-14.3,9.6,-14.5,6.4,-11.8,3.2,-11.5,0,-11.9],
  [40.8,-4,46.6,-5.4,49,-8.3,47.8,-12.1,43.4,-14.5,39.5,-12.8,37.3,-8.3,38.3,-5.1],
  [0,-18,3.2,-20.7,6.1,-23.5,10.2,-20.1,14,-18.8,21.7,-14.3,29.3,-10.8,32.5,-10.5,35.7,-13.7,40.8,-16.7,44.6,-17.2,49.7,-15.3,54.8,-9.6,55.5,-7,53.6,0],
  [0,-36.2,3.8,-33.8,8.9,-27.4,15.3,-21.7,23.6,-16.9,31.3,-16.1,38.3,-17.9,44.6,-20.4,49.1,-19.8,54.2,-17.5,59.3,-15.3,62.2,-12.1,60.6,-7,62.5,-4.5,65.1,-6.1,66.3,-10.8,70.2,-15,74,-19.8,72.7,-23,63.8,-24.2,51,-24.9,49.1,-28.7,48.2,-36.4,49.7,-43.4,54.8,-49.1,60.6,-55.5,63.3,-61.2,58.7,-64.4,59.3,-68.9,63.8,-70.5,72.1,-74.9,78.4,-79.4,76.5,-81.3,65.7,-83.2,57.4,-82.3,50.4,-82.9,44.6,-88.3,38.6,-92.5,36.4,-91.8,35.4,-85.5,31.3,-80.4,30,-73.3,31.3,-63.8,35.7,-56.8,38.6,-46.9,37,-44,33.2,-42.7,27.4,-44,21.7,-49.1,17.2,-55.5,12.1,-60,12.1,-64.4,15.3,-67,20.4,-66.6,20.4,-68.9,14.7,-74.6,13.7,-79.7,14.7,-84.2,19.1,-84.5,23.3,-87.4,23.6,-89.9,21.7,-95.7,21.4,-100],
  [66.3,0,67,-2.6,72.1,-7.7,76.9,-19.8,75.9,-25.5,72,-26.5,56.1,-27.1,51.7,-30,50.7,-35.7,53.6,-43.4,61.2,-50.4,67,-55.5,74,-52.9,77.8,-47.8,78.8,-38.3,79.4,-32.2,82.9,-31.9,97.6,-34.1,98.9,-31.9,93.8,-15.3,92.8,-9.6,94.4,-8,100,-7.3],
  [57.4,-29.3,63.8,-28.4,74,-29.7,75.6,-34.4,75.6,-44.6,72.1,-49.7,67,-51.5,61.2,-49.1,55.5,-42.7,52.9,-36.4,53.6,-31.3],
  [63.8,-30.6,70.2,-31.6,72.1,-35.7,72.7,-43.4,67,-47.5,61.2,-45.6,57.4,-40.8,56.1,-36.4,58.7,-32.2],
  [65,-33.3,68.9,-35.1,70.2,-38.9,69.2,-42.7,65.4,-44,61.2,-41.5,59.6,-37.6,61.2,-34.4],
  [65.2,-37.5,66.5,-38.7,65.2,-40.5,64.1,-38.7],
  [84.8,-11.7,89.3,-13.1,91.8,-17.9,90.9,-24.9,85.5,-29,80.4,-26.1,79,-19.8,80.4,-13.7],
  [84.8,-18,87.4,-20.4,85.8,-24.6,83.9,-24.6,82.3,-21.4,83.2,-18.5],
  [79.6,0,82.3,-4.5,86.7,-7.1,91.2,-5.7,92.8,0],
  [83.2,0,84.8,-2.6,87.4,-4,89.9,-2.6,90.9,0],
  [95,0,95.7,-3.8,100,-5.9],
  [97.6,0,98.5,-2.2,100,-3.3],
  [100,-10.1,97.3,-11.2,96.6,-13.1,100,-18.5],
  [33.8,-44.6,35.7,-46.9,33.2,-54.2,30.6,-58.7,26.8,-60.3,23,-57.4,22,-54.2,24.2,-49.7,29.3,-45.3],
  [30.3,-47.8,31.9,-49.1,30,-54.2,28.1,-56,26.1,-55.5,25.8,-52.3,28.1,-49.1],
  [100,-45.3,95.7,-46.9,88,-44,84.2,-45.3,80.4,-52.9,80.7,-57.4,85.5,-63.8,91.5,-69.5,96.3,-66.6,100,-67.3],
  [74.6,-59.6,80.4,-63.1,85.8,-69.5,83.5,-74.7,76.5,-72.1,70.2,-68.9,69.5,-63.1],
  [74.9,-64.2,77.5,-67,75.3,-68.1,73.2,-66.6,73,-64.7],
  [100,-70.9,96.9,-71.7,96,-74.6,100,-81.6],
  [100,-86.1,92.5,-85.8,85.5,-84.2,81.6,-89.3,77.2,-94.4,76.5,-100],
  [40.2,-100,42.1,-96.3,45.9,-92.5,53.6,-85.1,63.8,-85.8,75.1,-87.4,73.3,-93.1,73,-100],
  [49.4,-100,50.4,-95,55.5,-92.2,59.3,-94.4,61.5,-100],
  [65.2,-100,64.4,-94.4,65.1,-91.5,67.5,-91.5,68.2,-96.3,67.3,-100],
  [23.3,-100,24.2,-95.7,28.4,-91.8,30.9,-95,33.2,-100]
];
const resistivityDiffDashed = [
  [64.4,-17.9,68.6,-20.1,64.4,-22.2,60.6,-20.1],
  [0,-39.5,3.8,-38.6,8.3,-34.4,12.8,-28.7,19.1,-23,23.6,-19.5,31.3,-18.4,38.3,-19.8,44,-23.6,46.6,-28.1,46.2,-35.1,45,-42.9,43.4,-43.2,38.3,-41.1,33.8,-40.8,27.4,-42.4,21.7,-44.6,16.6,-49.7,10.8,-54.8,8.3,-56.8,6.4,-63.8,5.1,-67,8.3,-70.2,9.6,-74,8.3,-79.7,3.8,-85.5,0,-88.6],
  [0,-42.9,8.9,-40.8,11.5,-37.6,16.6,-30,19.1,-25.5,24.2,-21,32.5,-20.2,39.5,-23.3,43.7,-28.1,43.4,-33.8,40.2,-37.6,33.2,-39.5,26.8,-41.5,21,-43.4,15.3,-49.1,8.3,-51.7,5.1,-54.8,3.2,-60.6,0,-63.5],
  [31.3,-22.3,37.6,-24.9,40.8,-30,39.5,-36.4,33.2,-38.3,22.3,-40.5,19.1,-38.6,19.1,-35.1,21,-28.1,24.9,-23.6],
  [31.3,-24.6,35.7,-27.4,37.9,-30.3,35.7,-34.4,25.5,-37,23,-35.1,23,-30.6,25.5,-26.1],
  [30.3,-27.6,33.8,-30,31.9,-32.5,28.7,-33.2,26.5,-30.6,27.4,-28.4],
  [0,-54.2,.8,-56.1,0,-58],
  [42.1,-51.7,50.4,-50.7,54.8,-52.9,57.1,-56.1,52.9,-64.4,57.4,-73.3,59,-74.9,64.4,-74,69.5,-77.2,67.6,-79.7,61.9,-80,57.1,-75.9,49.7,-81,40.8,-85.1,35.7,-79.7,33.8,-75.9,36.4,-65.7,40.2,-54.2],
  [44.6,-59,46.9,-59.3,47.8,-67,52.3,-72.7,51,-76.5,44,-80,39.5,-76.5,38.9,-74.6,40.2,-65,42.7,-60.3],
  [87.5,-54.7,91.8,-58,94.1,-60.9,89.9,-61.7,87.4,-59.9,86.4,-57.1],
  [0,-94.4,3.2,-92.2,15.9,-91.8,18.5,-94.4,19.5,-100],
  [3.8,-100,5.7,-96.3,11.5,-94.7,15.9,-96.3,17.5,-100],
  [8,-100,11.5,-97.4,15.3,-100],
  [100,-90.9,91.8,-92.2,89.3,-94.4,87.1,-100],
  [100,-96.3,96.9,-98.2,96.3,-100]
];

// colour maps, evenly spaced stops
const plasma = ['#0d0887','#41049d','#6a00a8','#8f0da4','#b12a90','#cc4778','#e16462','#f1844b','#fca636','#fcce25','#f0f921'];
const viridis = ['#440154','#482475','#414487','#355f8d','#2a788e','#21918c','#22a884','#44bf70','#7ad151','#bddf26','#fde725'];
const seismic = ['#00004d','#0000ff','#ffffff','#ff0000','#800000'];

function hexToRgb(hex) {
  return [1, 3, 5].map(i => parseInt(hex.slice(i, i + 2), 16));
}

function colorAt(stops, t) {
  const p = Math.min(Math.max(t, 0), 1) * (stops.length - 1);
  const i = Math.min(Math.floor(p), stops.length - 2);
  const a = hexToRgb(stops[i]);
  const b = hexToRgb(stops[i + 1]);
  return a.map((c, k) => Math.round(c + (b[k] - c) * (p - i)));
}

// Paints the first dataset (the grid cells) through the chart scales
const heatmapPlugin = {
  id: 'heatmap',
  beforeDatasetsDraw(chart, args, opts) {
    const cells = chart.data.datasets[0].data;
    const off = document.createElement('canvas');
    off.width = xCells.length;
    off.height = zCells.length;
    const octx = off.getContext('2d');
    const img = octx.createImageData(off.width, off.height);
    cells.forEach(cell => {
      const col = xCells.indexOf(cell.x);
      const row = zCells.indexOf(cell.y);
      const rgb = colorAt(opts.stops, (cell.v - opts.range[0]) / (opts.range[1] - opts.range[0]));
      const k = (row * off.width + col) * 4;
      img.data[k] = rgb[0];
      img.data[k + 1] = rgb[1];
      img.data[k + 2] = rgb[2];
      img.data[k + 3] = 255;
    });
    octx.putImageData(img, 0, 0);

    const { ctx, chartArea, scales } = chart;
    const left = scales.x.getPixelForValue(xCells[0] - 2.5);
    const right = scales.x.getPixelForValue(xCells[xCells.length - 1] + 2.5);
    const top = scales.y.getPixelForValue(zCells[0] + 2.5);
    const bottom = scales.y.getPixelForValue(zCells[zCells.length - 1] - 2.5);
    ctx.save();
    ctx.beginPath();
    ctx.rect(chartArea.left, chartArea.top, chartArea.right - chartArea.left, chartArea.bottom - chartArea.top);
    ctx.clip();
    ctx.imageSmoothingEnabled = true;
    ctx.imageSmoothingQuality = 'high';
    ctx.drawImage(off, left, top, right - left, bottom - top);
    ctx.restore();
  }
};

// Top and right spines, the axes only draw their own side
const spinesPlugin = {
  id: 'spines',
  afterDatasetsDraw(chart) {
    const { ctx, chartArea: a } = chart;
    ctx.save();
    ctx.strokeStyle = '#111';
    ctx.lineWidth = 2;
    ctx.strokeRect(a.left, a.top, a.right - a.left, a.bottom - a.top);
    ctx.restore();
  }
};

// Chart.js turns a right axis title the other way, so the colour bars draw their own
const barTitlePlugin = {
  id: 'barTitle',
  afterDraw(chart, args, opts) {
    const { ctx, chartArea: a, scales } = chart;
    ctx.save();
    ctx.translate(scales.y.right - 18, (a.top + a.bottom) / 2 + 2);
    ctx.rotate(-Math.PI / 2);
    ctx.fillStyle = TEXT;
    ctx.font = '30px "' + FONT + '"';
    ctx.textAlign = 'center';
    ctx.textBaseline = 'middle';
    ctx.fillText(opts.text, 0, 0);
    ctx.restore();
  }
};

const minus = v => String(v).replace('-', '\u2212');
const TEXT = '#222';
const FONT = 'DejaVu Sans';

function makeCanvas(left, top, width, height) {
  const c = document.createElement('canvas');
  c.width = width;
  c.height = height;
  c.style.left = left + 'px';
  c.style.top = top + 'px';
  c.style.width = width + 'px';
  c.style.height = height + 'px';
  document.body.appendChild(c);
  return c;
}

function lineDataset(line, dashed) {
  const points = [];
  for (let i = 0; i < line.length; i += 2) points.push({ x: line[i], y: line[i + 1] });
  const first = points[0];
  const onEdge = first.x === 0 || first.x === 100 || first.y === 0 || first.y === -100;
  const ds = {
    type: 'scatter',
    data: points,
    showLine: true,
    pointRadius: 0,
    borderColor: 'rgba(0,0,0,0.68)',
    borderWidth: 2,
    borderDash: dashed ? [5, 2.5] : [],
    tension: 0.38,
    fill: false
  };
  if (!onEdge) {
    // closed loop: wrap one point each way so the curve has no corner, and hide the two spare segments
    const n = points.length;
    ds.data = [points[n - 1]].concat(points, [points[0], points[1]]);
    const lastIndex = ds.data.length - 1;
    ds.segment = {
      borderColor: ctx => (ctx.p0DataIndex === 0 || ctx.p1DataIndex === lastIndex ? 'rgba(0,0,0,0)' : undefined)
    };
  }
  return ds;
}

function axis(ticks, title, width, height, padding, labelOffset) {
  return {
    type: 'linear',
    min: ticks[0] < ticks[ticks.length - 1] ? ticks[0] : ticks[ticks.length - 1],
    max: ticks[0] < ticks[ticks.length - 1] ? ticks[ticks.length - 1] : ticks[0],
    afterBuildTicks: s => { s.ticks = ticks.map(v => ({ value: v })); },
    afterFit: s => {
      if (width) s.width = width;
      if (height) s.height = height;
    },
    border: { display: true, color: '#111', width: 2 },
    grid: { drawOnChartArea: false, drawTicks: true, tickLength: 10, tickWidth: 2, tickColor: '#333' },
    ticks: {
      color: TEXT,
      font: { family: FONT, size: 30 },
      padding: padding,
      labelOffset: labelOffset,
      maxRotation: 0,
      autoSkip: false,
      callback: v => minus(v)
    },
    title: { display: !!title, text: title, color: TEXT, font: { family: FONT, size: 30 }, padding: 0 }
  };
}

function drawPanel(p) {
  const canvas = makeCanvas(p.left - 158, p.top - p.titleGap - 21, 702 + 316, p.titleGap + 21 + p.height + 102);
  const cells = [];
  zCells.forEach((z, r) => xCells.forEach((x, c) => cells.push({ x: x, y: z, v: p.grid[r][c] })));
  const datasets = [{ type: 'scatter', data: cells, pointRadius: 0, showLine: false }];
  p.solid.forEach(l => datasets.push(lineDataset(l, false)));
  (p.dashed || []).forEach(l => datasets.push(lineDataset(l, true)));

  new Chart(canvas.getContext('2d'), {
    type: 'scatter',
    data: { datasets: datasets },
    plugins: [heatmapPlugin, spinesPlugin],
    options: {
      responsive: false,
      animation: false,
      devicePixelRatio: 1,
      layout: { padding: { right: 158 } },
      scales: {
        x: axis(xTicks, 'X [m]', 0, 102, 12, 0),
        y: axis(depthTicks, 'Depth Z [m]', 158, 0, 13, 3)
      },
      plugins: {
        legend: { display: false },
        tooltip: { enabled: false },
        heatmap: { stops: p.stops, range: p.range },
        title: {
          display: true,
          fullSize: false,
          text: p.title,
          color: TEXT,
          font: { family: FONT, size: 37.5, weight: 'normal', lineHeight: 42 / 37.5 },
          padding: { top: 0, bottom: p.titleGap - 21 }
        }
      }
    }
  });
}

function drawColorbar(b) {
  const height = b.bottom - b.top;
  const canvas = makeCanvas(b.left - 2, b.top - 40, 48 + b.axisWidth, height + 80);
  new Chart(canvas.getContext('2d'), {
    type: 'bar',
    plugins: [barTitlePlugin],
    data: {
      labels: [''],
      datasets: [{
        data: [b.range],
        barPercentage: 1,
        categoryPercentage: 1,
        borderSkipped: false,
        borderWidth: 2,
        borderColor: '#111',
        backgroundColor: ctx => {
          const area = ctx.chart.chartArea;
          if (!area) return '#fff';
          const g = ctx.chart.ctx.createLinearGradient(0, area.bottom, 0, area.top);
          b.stops.forEach((c, i) => g.addColorStop(i / (b.stops.length - 1), c));
          return g;
        }
      }]
    },
    options: {
      responsive: false,
      animation: false,
      devicePixelRatio: 1,
      layout: { padding: { left: 2, top: 40, bottom: 40 } },
      scales: {
        x: { display: false },
        y: Object.assign(axis(b.ticks, '', b.axisWidth, 0, 14, 4), {
          position: 'right',
          min: b.range[0],
          max: b.range[1],
          border: { display: false }
        })
      },
      plugins: {
        legend: { display: false },
        tooltip: { enabled: false },
        barTitle: { text: b.title }
      }
    }
  });
}

const columns = [197, 1326, 2455];
const rows = [{ top: 152, height: 700, titleGap: 31 }, { top: 1156, height: 702, titleGap: 28 }];

drawPanel({ left: columns[0], top: rows[0].top, height: rows[0].height, titleGap: rows[0].titleGap, title: 'True Velocity [m/s]', grid: trueVelocity, solid: trueVelocityLines, stops: plasma, range: velocityRange });
drawPanel({ left: columns[1], top: rows[0].top, height: rows[0].height, titleGap: rows[0].titleGap, title: 'Inverted Velocity (iter 200)', grid: invertedVelocity, solid: invertedVelocityLines, stops: plasma, range: velocityRange });
drawPanel({ left: columns[2], top: rows[0].top, height: rows[0].height, titleGap: rows[0].titleGap, title: 'Velocity % Difference', grid: velocityDiff, solid: velocityDiffSolid, dashed: velocityDiffDashed, stops: seismic, range: diffRange });
drawPanel({ left: columns[0], top: rows[1].top, height: rows[1].height, titleGap: rows[1].titleGap, title: 'True Resistivity [Ohm\u00b7m]', grid: trueResistivity, solid: trueResistivityLines, stops: viridis, range: resistivityRange });
drawPanel({ left: columns[1], top: rows[1].top, height: rows[1].height, titleGap: rows[1].titleGap, title: 'Inverted Resistivity (iter 200)', grid: invertedResistivity, solid: invertedResistivityLines, stops: viridis, range: resistivityRange });
drawPanel({ left: columns[2], top: rows[1].top, height: rows[1].height, titleGap: rows[1].titleGap, title: 'Resistivity % Difference', grid: resistivityDiff, solid: resistivityDiffSolid, dashed: resistivityDiffDashed, stops: seismic, range: diffRange });

drawColorbar({ left: 942, top: 43, bottom: 958, axisWidth: 147, title: 'Velocity [m/s]', ticks: velocityTicks, range: velocityRange, stops: plasma });
drawColorbar({ left: 2071, top: 43, bottom: 958, axisWidth: 147, title: 'Velocity [m/s]', ticks: velocityTicks, range: velocityRange, stops: plasma });
drawColorbar({ left: 3200, top: 43, bottom: 958, axisWidth: 133, title: 'Difference [%]', ticks: diffTicks, range: diffRange, stops: seismic });
drawColorbar({ left: 942, top: 1050, bottom: 1964, axisWidth: 105, title: 'Resistivity [Ohm\u00b7m]', ticks: resistivityTicks, range: resistivityRange, stops: viridis });
drawColorbar({ left: 2071, top: 1050, bottom: 1964, axisWidth: 105, title: 'Resistivity [Ohm\u00b7m]', ticks: resistivityTicks, range: resistivityRange, stops: viridis });
drawColorbar({ left: 3200, top: 1050, bottom: 1964, axisWidth: 133, title: 'Difference [%]', ticks: diffTicks, range: diffRange, stops: seismic });
</script>
</body>
</html>
